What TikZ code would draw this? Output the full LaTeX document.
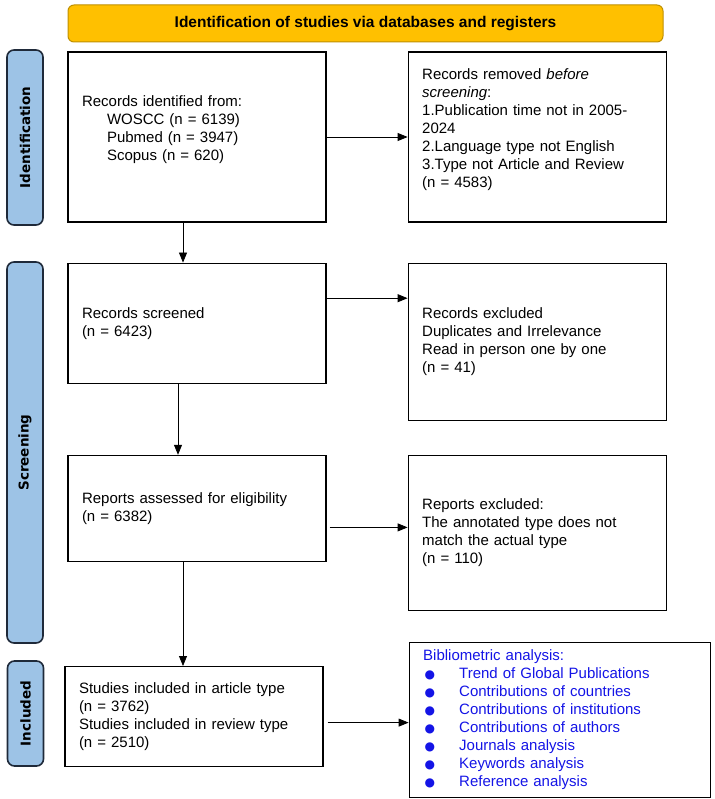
\documentclass[tikz,border=0pt]{standalone}
\usepackage{fontspec}
\setmainfont{Liberation Sans}
\newfontfamily\symfont{DejaVu Sans}
\usetikzlibrary{positioning,arrows.meta}
\definecolor{titlecol}{HTML}{FFC000}
\definecolor{titleline}{HTML}{BF9000}
\definecolor{phasecol}{HTML}{9DC3E6}
\definecolor{phaseline}{HTML}{1F2A3A}
\definecolor{anacol}{HTML}{1414E6}
\newcommand{\bul}{\makebox[36pt][l]{\hspace{1.5pt}{\symfont\fontsize{12}{12}\selectfont ●}}}

\begin{document}
\begin{tikzpicture}[
  x=1pt, y=-1pt,
  font=\fontsize{15}{18}\selectfont,
  box/.style={draw, line width=1.2pt, align=left, text width=230pt,
              inner xsep=14pt, inner ysep=0pt},
  phase/.style={draw=phaseline, fill=phasecol, rounded corners=7pt,
                line width=1.6pt, rotate=90, inner sep=0pt, minimum height=36pt,
                font=\symfont\fontsize{13.5}{16}\selectfont\bfseries},
  arr/.style={-{Triangle[length=10pt,width=8pt]}, line width=0.8pt},
]
\useasboundingbox (0,0) rectangle (714,799);

% ------------------------------------------------------------- header
\node[draw=titleline, fill=titlecol, rounded corners=6pt, line width=1pt,
      minimum width=595pt, minimum height=37pt,
      font=\fontsize{15.5}{18}\selectfont\bfseries] (title) at (365.5,23.5)
  {Identification of studies via databases and registers};

% ------------------------------------------------------------- phases
\node[phase, minimum width=175pt] (idlab)  at (25,137.5)  {Identification};
\node[phase, minimum width=381pt] (scrlab) at (25,452.5)  {Screening};
\node[phase, minimum width=105pt] (inclab) at (25.5,713.5) {Included};

% ------------------------------------------------------------- identification
\node[box, minimum height=170pt] (ident) at (197,137)
  {Records identified from:\\
   \hspace*{25pt}WOSCC (n = 6139)\\
   \hspace*{25pt}Pubmed (n = 3947)\\
   \hspace*{25pt}Scopus (n = 620)\\ \mbox{}};

\node[box, minimum height=170pt, right=81pt of ident] (removed)
  {Records removed \textit{before}\\
   \textit{screening}:\\
   1.Publication time not in 2005-\\
   2024\\
   2.Language type not English\\
   3.Type not Article and Review\\
   (n = 4583)\\ \mbox{}};

% ------------------------------------------------------------- screening
\node[box, minimum height=120pt, below=40pt of ident] (screened)
  {Records screened\\ (n = 6423)};

\node[box, minimum height=157pt, right=81pt of screened.north east,
      anchor=north west] (excluded)
  {Records excluded\\
   Duplicates and Irrelevance\\
   Read in person one by one\\
   (n = 41)};

\node[box, minimum height=106pt, below=71pt of screened] (assessed)
  {Reports assessed for eligibility\\ (n = 6382)};

\node[box, minimum height=155pt, right=81pt of assessed.north east,
      anchor=north west] (reportsout)
  {Reports excluded:\\
   The annotated type does not\\
   match the actual type\\
   (n = 110)};

% ------------------------------------------------------------- included
\node[box, minimum height=100pt, below=104pt of assessed, xshift=-3pt] (included)
  {Studies included in article type\\
   (n = 3762)\\
   Studies included in review type\\
   (n = 2510)};

\node[box, text width=273pt, minimum height=155pt, text=anacol,
      right=85pt of included, yshift=-3.5pt] (biblio)
  {Bibliometric analysis:\\
   \bul Trend of Global Publications\\
   \bul Contributions of countries\\
   \bul Contributions of institutions\\
   \bul Contributions of authors\\
   \bul Journals analysis\\
   \bul Keywords analysis\\
   \bul Reference analysis};

% ------------------------------------------------------------- arrows
\draw[arr] (ident) -- (removed);
\draw[arr] ([xshift=-14pt]ident.south) -- ([xshift=-14pt]screened.north);
\draw[arr] ([yshift=25pt]screened.east) -- ([yshift=25pt]screened.east -| excluded.west);
\draw[arr] ([xshift=-19pt]screened.south) -- ([xshift=-19pt]assessed.north);
\draw[arr] ([xshift=3pt,yshift=-19pt]assessed.east) -- ([yshift=-19pt]assessed.east -| reportsout.west);
\draw[arr] ([xshift=-14pt]assessed.south) -- ([xshift=-14pt]assessed.south |- included.north);
\draw[arr] ([xshift=4pt,yshift=-6pt]included.east) -- ([yshift=-6pt]included.east -| biblio.west);

\end{tikzpicture}
\end{document}
